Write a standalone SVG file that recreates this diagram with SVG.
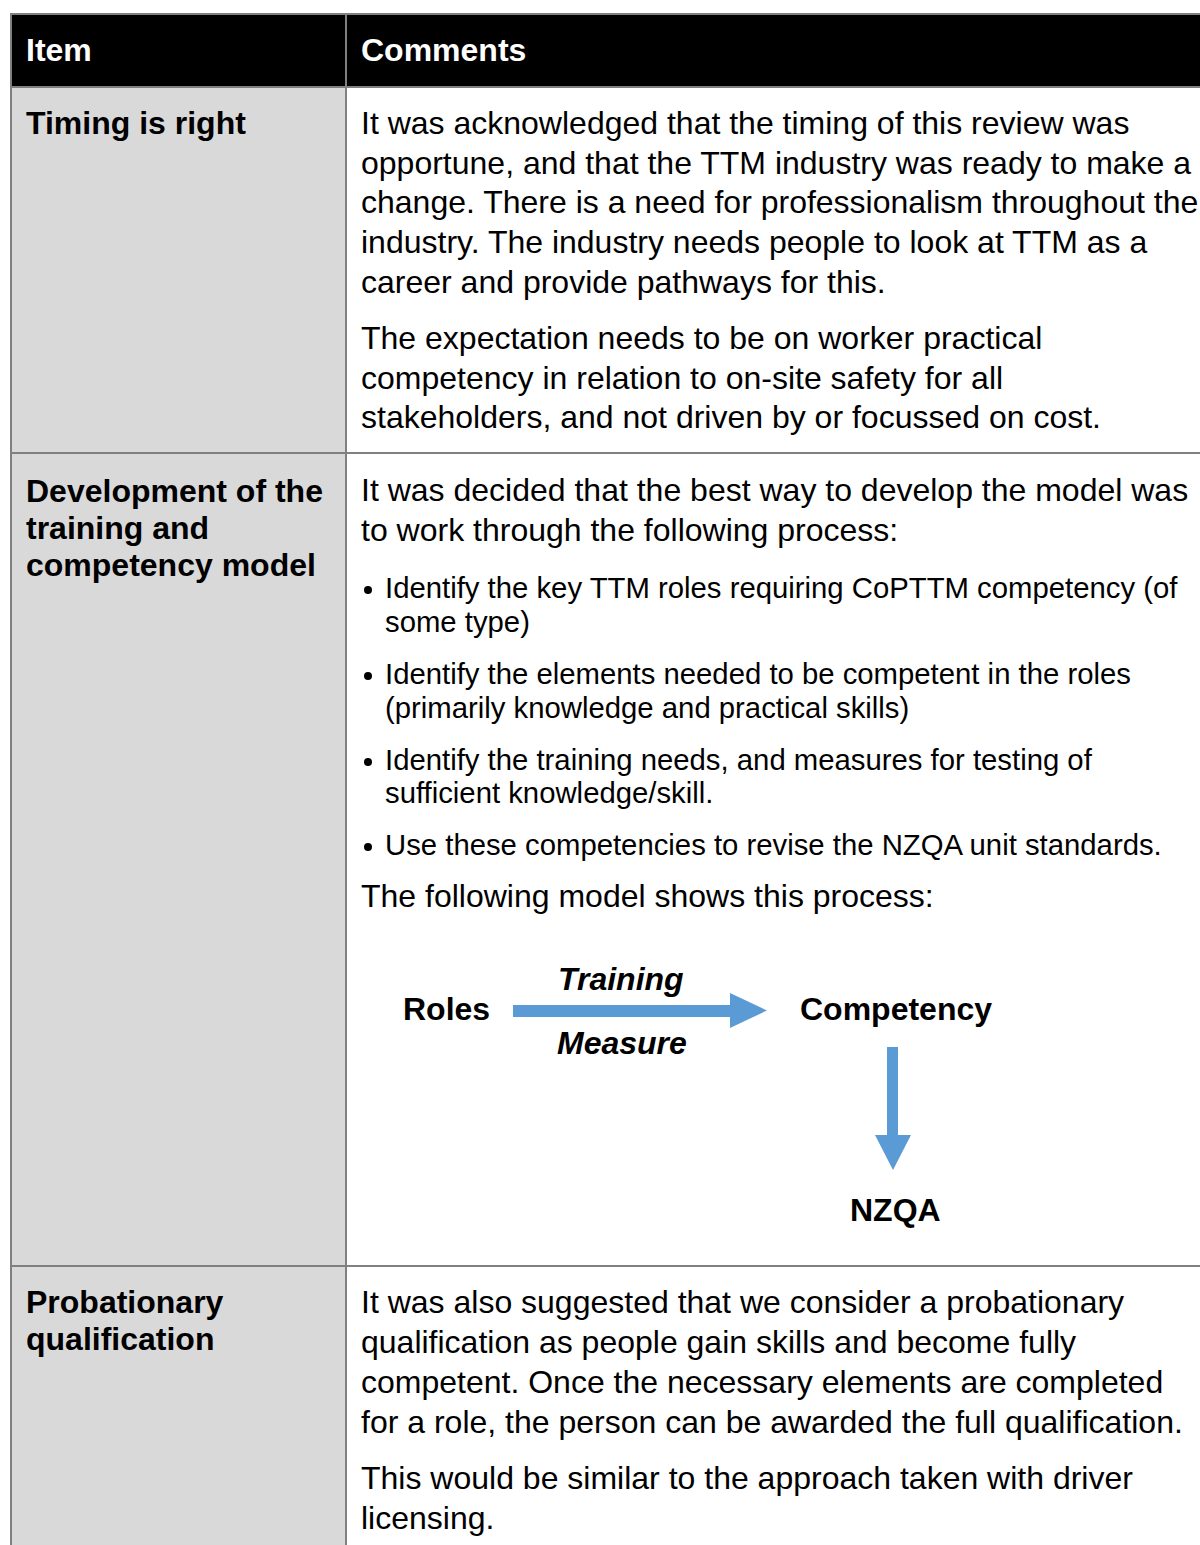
<svg xmlns="http://www.w3.org/2000/svg" width="1200" height="1545" viewBox="0 0 1200 1545">
<style>
text{font-family:"Liberation Sans",Arial,sans-serif;fill:#000}
.h{font-size:32px;font-weight:bold;fill:#fff}
.b{font-size:32px;font-weight:bold}
.t{font-size:32px}
.s{font-size:29.3px}
.bi{font-size:32px;font-weight:bold;font-style:italic}
.ln{stroke:#808080;stroke-width:2;fill:none}
.arr{fill:#5b9bd5}
</style>
<rect x="0" y="0" width="1200" height="1545" fill="#fff"/>
<g id="table">
<rect x="11" y="14" width="1189" height="73" fill="#000"/>
<rect x="11" y="87" width="335" height="1458" fill="#d9d9d9"/>
<line class="ln" x1="11" y1="14" x2="1200" y2="14"/>
<line class="ln" x1="11" y1="13" x2="11" y2="1545"/>
<line class="ln" x1="346" y1="14" x2="346" y2="1545"/>
<line class="ln" x1="11" y1="87" x2="1200" y2="87"/>
<line class="ln" x1="11" y1="453" x2="1200" y2="453"/>
<line class="ln" x1="11" y1="1266" x2="1200" y2="1266"/>
</g>
<g id="header">
<text class="h" x="26" y="61">Item</text>
<text class="h" x="361" y="61">Comments</text>
</g>
<g id="row1">
<text class="b" x="26" y="134">Timing is right</text>
<text class="t" x="361" y="134">It was acknowledged that the timing of this review was</text>
<text class="t" x="361" y="173.7">opportune, and that the TTM industry was ready to make a</text>
<text class="t" x="361" y="213.4">change. There is a need for professionalism throughout the</text>
<text class="t" x="361" y="253">industry. The industry needs people to look at TTM as a</text>
<text class="t" x="361" y="292.8">career and provide pathways for this.</text>
<text class="t" x="361" y="349">The expectation needs to be on worker practical</text>
<text class="t" x="361" y="389">competency in relation to on-site safety for all</text>
<text class="t" x="361" y="428">stakeholders, and not driven by or focussed on cost.</text>
</g>
<g id="row2">
<text class="b" x="26" y="501.5">Development of the</text>
<text class="b" x="26" y="538.5">training and</text>
<text class="b" x="26" y="575.5">competency model</text>
<text class="t" x="361" y="501">It was decided that the best way to develop the model was</text>
<text class="t" x="361" y="541">to work through the following process:</text>
<circle cx="368" cy="590" r="4"/>
<text class="s" x="385" y="597.5">Identify the key TTM roles requiring CoPTTM competency (of</text>
<text class="s" x="385" y="631.5">some type)</text>
<circle cx="368" cy="676" r="4"/>
<text class="s" x="385" y="683.5">Identify the elements needed to be competent in the roles</text>
<text class="s" x="385" y="717.5">(primarily knowledge and practical skills)</text>
<circle cx="368" cy="762" r="4"/>
<text class="s" x="385" y="769.5">Identify the training needs, and measures for testing of</text>
<text class="s" x="385" y="803">sufficient knowledge/skill.</text>
<circle cx="368" cy="847" r="4"/>
<text class="s" x="385" y="854.5">Use these competencies to revise the NZQA unit standards.</text>
<text class="t" x="361" y="906.5">The following model shows this process:</text>
</g>
<g id="node-roles"><text class="b" x="403" y="1020">Roles</text></g>
<g id="node-competency"><text class="b" x="800" y="1020">Competency</text></g>
<g id="node-nzqa"><text class="b" x="850" y="1221">NZQA</text></g>
<g id="connectors">
<polygon class="arr" points="513,1005 730,1005 730,993 767,1010.5 730,1028 730,1017 513,1017"/>
<text class="bi" x="558" y="990">Training</text>
<text class="bi" x="557" y="1054">Measure</text>
<polygon class="arr" points="887,1047 898,1047 898,1135 911,1135 893,1170 875,1135 887,1135"/>
</g>
<g id="row3">
<text class="b" x="26" y="1313">Probationary</text>
<text class="b" x="26" y="1350">qualification</text>
<text class="t" x="361" y="1313">It was also suggested that we consider a probationary</text>
<text class="t" x="361" y="1353">qualification as people gain skills and become fully</text>
<text class="t" x="361" y="1393">competent. Once the necessary elements are completed</text>
<text class="t" x="361" y="1433">for a role, the person can be awarded the full qualification.</text>
<text class="t" x="361" y="1489">This would be similar to the approach taken with driver</text>
<text class="t" x="361" y="1529">licensing.</text>
</g>
</svg>
